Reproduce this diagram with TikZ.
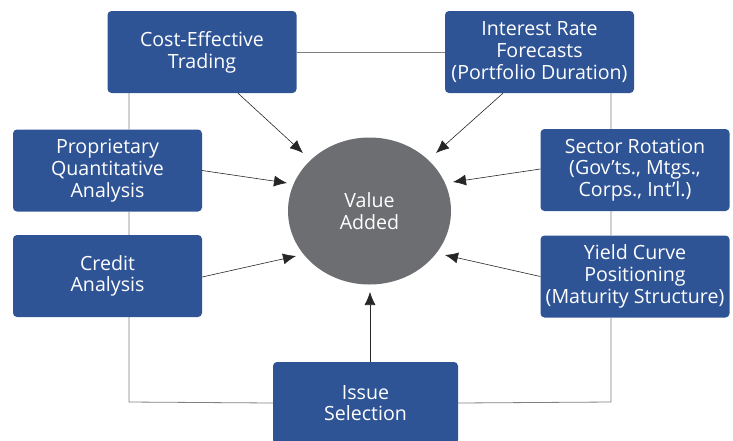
\documentclass[tikz,border=0pt]{standalone}
\usepackage{fontspec}
\setmainfont{Open Sans}
\usetikzlibrary{arrows.meta,shapes.geometric}
\definecolor{boxblue}{RGB}{47,84,150}
\definecolor{ovalgray}{RGB}{109,110,113}
\def\Factor (#1) at (#2, #3) #4; {
    \node[factor] (#1) at (#2, #3) {#4};
}

\begin{document}
\begin{tikzpicture}[x=1pt, y=-1pt,
        factor/.style={fill=boxblue, text=white, rounded corners=4pt,
            minimum width=189pt, minimum height=82pt, inner sep=0pt,
            align=center, font=\fontsize{19.6}{21.8}\selectfont},
        ring/.style={draw=black!50, line width=0.8pt},
        feed/.style={-{Latex[length=13pt,width=11pt]}, draw=black!85, line width=0.6pt}]
        \useasboundingbox (0, 0) rectangle (733, 440);
        \Factor (trading) at (202, 52) {Cost-Effective\\Trading};
        \Factor (forecast) at (539.5, 52) {Interest Rate\\Forecasts\\(Portfolio Duration)};
        \Factor (quant) at (107.5, 170.5) {Proprietary\\Quantitative\\Analysis};
        \Factor (credit) at (107.5, 276) {Credit\\Analysis};
        \Factor (sector) at (635, 170) {Sector Rotation\\(Gov'ts., Mtgs.,\\Corps., Int'l.)};
        \Factor (yield) at (635, 276.5) {Yield Curve\\Positioning\\(Maturity Structure)};
        \node[factor, minimum width=185pt] (issue) at (365.5, 403) {Issue\\Selection};
        \node[ellipse, fill=ovalgray, text=white, minimum width=163pt, minimum height=147pt,
            inner sep=0pt, align=center, font=\fontsize{19.6}{21.8}\selectfont]
            (value) at (369.5, 211) {Value\\Added};
        % outer ring
        \coordinate (bl) at (129, 402);
        \coordinate (br) at (611, 402);
        \draw[ring] (trading.east) -- (forecast.west);
        \draw[ring] (trading.south -| bl) -- (quant.north -| bl)
            (quant.south -| bl) -- (credit.north -| bl)
            (credit.south -| bl) -- (bl) -- (issue.west);
        \draw[ring] (issue.east) -- (br) -- (yield.south -| br)
            (yield.north -| br) -- (sector.south -| br)
            (sector.north -| br) -- (forecast.south -| br);
        % arrows into the oval
        \coordinate (t1) at (303, 153);
        \coordinate (t2) at (436, 153);
        \coordinate (t3) at (287, 183);
        \coordinate (t4) at (296, 256);
        \coordinate (t5) at (453, 182);
        \coordinate (t6) at (445, 255);
        \coordinate (t7) at (370, 292);
        \draw[feed] ([xshift=36pt]trading.south) -- (t1);
        \draw[feed] ([xshift=-36.5pt]forecast.south) -- (t2);
        \draw[feed] (quant.east) -- (t3);
        \draw[feed] ([yshift=-1pt]credit.east) -- (t4);
        \draw[feed] ([yshift=1pt]sector.west) -- (t5);
        \draw[feed] (yield.west) -- (t6);
        \draw[feed] ([xshift=4.5pt]issue.north) -- (t7);
    \end{tikzpicture}
\end{document}
